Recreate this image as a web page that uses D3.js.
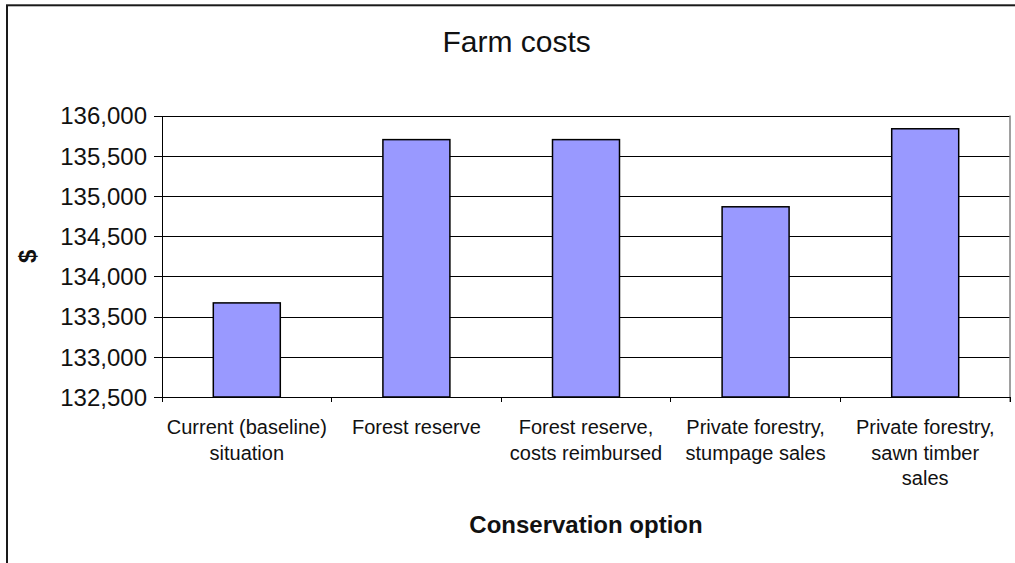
<!DOCTYPE html>
<html>
<head>
<meta charset="utf-8">
<script src="https://cdn.jsdelivr.net/npm/d3@7/dist/d3.min.js"></script>
<style>
  html, body { margin: 0; padding: 0; background: #fff; }
  svg { display: block; font-family: Arial, "Liberation Sans", sans-serif; }
</style>
</head>
<body>
<svg id="chart" width="1015" height="563"></svg>
<script>
// Conservation options (category labels, one entry per wrapped line)
const categoryLines = [
  ["Current (baseline)", "situation"],
  ["Forest reserve"],
  ["Forest reserve,", "costs reimbursed"],
  ["Private forestry,", "stumpage sales"],
  ["Private forestry,", "sawn timber", "sales"]
];
const categories = categoryLines.map(l => l.join(" "));

// Farm costs ($) for each option
const farmCosts = [133670, 135700, 135700, 134865, 135835];

// Value axis ticks
const yTicks = [132500, 133000, 133500, 134000, 134500, 135000, 135500, 136000];

const titleText = "Farm costs";
const xTitle = "Conservation option";
const yTitle = "$";

const svg = d3.select("#chart");
const W = 1015, H = 563;
const plot = { left: 162, right: 1010, top: 115.5, bottom: 397 };

// Chart frame
svg.append("rect")
  .attr("x", 7).attr("y", 5.3)
  .attr("width", W + 20).attr("height", H + 20)
  .attr("fill", "#fff")
  .attr("stroke", "#1a1a1a")
  .attr("stroke-width", 2);

const x = d3.scaleBand()
  .domain(categories)
  .range([plot.left, plot.right])
  .paddingInner(0.605)
  .paddingOuter(0.3025);

const y = d3.scaleLinear()
  .domain([132500, 136000])
  .range([plot.bottom, plot.top]);

// Gridlines and value axis
const yAxis = d3.axisLeft(y)
  .tickValues(yTicks)
  .tickFormat(d3.format(","))
  .tickSize(-(plot.right - plot.left))
  .tickSizeOuter(0)
  .tickPadding(15);

const gy = svg.append("g")
  .attr("transform", `translate(${plot.left},0)`)
  .call(yAxis);
gy.select(".domain").remove();
gy.selectAll(".tick line")
  .attr("x1", -8)
  .attr("stroke", "#000")
  .attr("stroke-width", 1)
  .attr("shape-rendering", "crispEdges");
gy.selectAll(".tick text")
  .attr("font-size", 24)
  .attr("fill", "#111")
  .attr("font-family", "Arial, 'Liberation Sans', sans-serif")
  .attr("dy", "0.35em");

// Plot area right edge
svg.append("line")
  .attr("x1", plot.right).attr("x2", plot.right)
  .attr("y1", plot.top).attr("y2", plot.bottom + 5)
  .attr("stroke", "#808080").attr("stroke-width", 1.5);

// Bars
svg.append("g")
  .selectAll("rect")
  .data(farmCosts)
  .join("rect")
  .attr("x", (d, i) => x(categories[i]))
  .attr("y", d => y(d))
  .attr("width", x.bandwidth())
  .attr("height", d => y(132500) - y(d))
  .attr("fill", "#9999FF")
  .attr("stroke", "#000")
  .attr("stroke-width", 1.5);

// Left axis line
svg.append("line")
  .attr("x1", plot.left).attr("x2", plot.left)
  .attr("y1", plot.top).attr("y2", plot.bottom)
  .attr("stroke", "#000").attr("stroke-width", 1)
  .attr("shape-rendering", "crispEdges");

// Category axis with tick marks between categories
svg.append("line")
  .attr("x1", plot.left).attr("x2", plot.right)
  .attr("y1", plot.bottom).attr("y2", plot.bottom)
  .attr("stroke", "#000").attr("stroke-width", 1)
  .attr("shape-rendering", "crispEdges");

const boundaries = d3.range(categories.length + 1).map(i => plot.left + i * x.step());
svg.append("g")
  .selectAll("line")
  .data(boundaries)
  .join("line")
  .attr("x1", d => d).attr("x2", d => d)
  .attr("y1", plot.bottom).attr("y2", plot.bottom + 5)
  .attr("stroke", "#000").attr("stroke-width", 1)
  .attr("shape-rendering", "crispEdges");

// Category labels
const labelG = svg.append("g")
  .attr("font-size", 20)
  .attr("fill", "#111")
  .attr("text-anchor", "middle");
categoryLines.forEach((lines, i) => {
  const cx = x(categories[i]) + x.bandwidth() / 2;
  const t = labelG.append("text").attr("x", cx).attr("y", plot.bottom + 37);
  lines.forEach((ln, j) => {
    t.append("tspan").attr("x", cx).attr("dy", j === 0 ? 0 : 25.6).text(ln);
  });
});

// Titles
svg.append("text")
  .attr("x", 516.7).attr("y", 52.3)
  .attr("text-anchor", "middle")
  .attr("font-size", 30)
  .attr("fill", "#111")
  .text(titleText);

svg.append("text")
  .attr("x", (plot.left + plot.right) / 2).attr("y", 533)
  .attr("text-anchor", "middle")
  .attr("font-size", 24)
  .attr("font-weight", "bold")
  .attr("fill", "#111")
  .text(xTitle);

svg.append("text")
  .attr("transform", `translate(36,${(plot.top + plot.bottom) / 2}) rotate(-90)`)
  .attr("text-anchor", "middle")
  .attr("font-size", 24)
  .attr("font-weight", "bold")
  .attr("fill", "#111")
  .text(yTitle);
</script>
</body>
</html>
